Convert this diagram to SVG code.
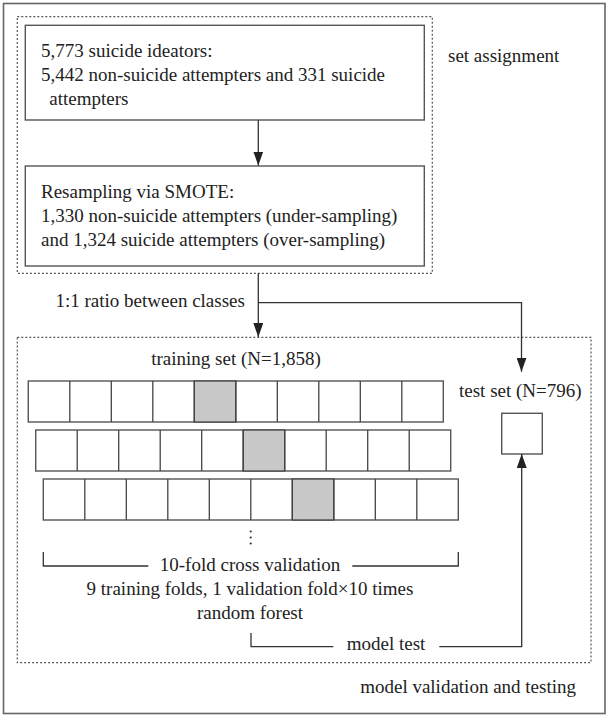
<svg xmlns="http://www.w3.org/2000/svg" width="608" height="718" viewBox="0 0 608 718">
<defs>
<style>
text{font-family:"Liberation Serif","Times New Roman",serif;font-size:19px;fill:#222;}
.box{fill:#fff;stroke:#555;stroke-width:1.4;}
.dot{fill:none;stroke:#555;stroke-width:1.2;stroke-dasharray:2 2;}
.ln{fill:none;stroke:#333;stroke-width:1.3;}
.cell{stroke:#444;stroke-width:1.3;}
.mid{text-anchor:middle;}
</style>
<marker id="ah" viewBox="0 0 14 10" markerWidth="14" markerHeight="10" refX="14" refY="5" orient="auto" markerUnits="userSpaceOnUse">
<path d="M0,0 L14,5 L0,10 z" fill="#222"/>
</marker>
</defs>
<rect width="608" height="718" fill="#fff"/>
<rect id="outer" x="3.5" y="3.5" width="601.5" height="710" fill="none" stroke="#666" stroke-width="1.6"/>
<g id="set-assignment">
<rect x="17.3" y="16.7" width="415" height="256.6" class="dot"/>
<text x="448" y="62">set assignment</text>
</g>
<g id="box1">
<rect x="25.3" y="25.3" width="399" height="94.7" class="box"/>
<text x="41" y="56.7">5,773 suicide ideators:</text>
<text x="41" y="80.5">5,442 non-suicide attempters and 331 suicide</text>
<text x="49.3" y="104.5">attempters</text>
</g>
<g id="box2">
<rect x="25.3" y="166" width="399" height="100" class="box"/>
<text x="41" y="197.5">Resampling via SMOTE:</text>
<text x="41" y="221.5">1,330 non-suicide attempters (under-sampling)</text>
<text x="41" y="245.5">and 1,324 suicide attempters (over-sampling)</text>
</g>
<g id="model-validation">
<rect x="17.3" y="337.3" width="573.7" height="325.4" class="dot"/>
<text x="576" y="693" style="text-anchor:end">model validation and testing</text>
</g>
<g id="training-set">
<text x="236" y="365" class="mid">training set (N=1,858)</text>
<g id="row1">
<rect x="28.3" y="381" width="415" height="41" class="box"/>
<rect x="194.3" y="381" width="41.5" height="41" fill="#c8c8c8" class="cell"/>
<path class="cell" d="M69.8,381V422M111.3,381V422M152.8,381V422M194.3,381V422M235.8,381V422M277.3,381V422M318.8,381V422M360.3,381V422M401.8,381V422"/>
</g>
<g id="row2">
<rect x="35.7" y="430" width="415" height="41" class="box"/>
<rect x="243.2" y="430" width="41.5" height="41" fill="#c8c8c8" class="cell"/>
<path class="cell" d="M77.2,430V471M118.7,430V471M160.2,430V471M201.7,430V471M243.2,430V471M284.7,430V471M326.2,430V471M367.7,430V471M409.2,430V471"/>
</g>
<g id="row3">
<rect x="43.3" y="479" width="415" height="41" class="box"/>
<rect x="292.3" y="479" width="41.5" height="41" fill="#c8c8c8" class="cell"/>
<path class="cell" d="M84.8,479V520M126.3,479V520M167.8,479V520M209.3,479V520M250.8,479V520M292.3,479V520M333.8,479V520M375.3,479V520M416.8,479V520"/>
</g>
<g id="ellipsis" fill="#333">
<circle cx="250.7" cy="531.5" r="1.1"/>
<circle cx="250.7" cy="537.5" r="1.1"/>
<circle cx="250.7" cy="543.5" r="1.1"/>
</g>
</g>
<g id="cross-validation">
<text x="250" y="571" class="mid">10-fold cross validation</text>
<text x="250" y="595" class="mid">9 training folds, 1 validation fold×10 times</text>
<text x="250" y="619" class="mid">random forest</text>
</g>
<g id="test-set">
<text x="459" y="397">test set (N=796)</text>
<rect x="501.7" y="413.3" width="40.6" height="40.7" class="box"/>
</g>
<g id="connectors">
<line x1="258.3" y1="120" x2="258.3" y2="165.5" class="ln" marker-end="url(#ah)"/>
<line x1="258.3" y1="273.3" x2="258.3" y2="337" class="ln" marker-end="url(#ah)"/>
<path d="M258.3,302.7H521.5V371.7" class="ln" marker-end="url(#ah)"/>
<text x="55.5" y="307">1:1 ratio between classes</text>
<path d="M43.3,552V566H148.3M352.3,566H458.3V552" class="ln"/>
<path d="M251,633V646.7H333.3" class="ln"/>
<path d="M439.3,646.7H521.7V454" class="ln" marker-end="url(#ah)"/>
<text x="346.7" y="650">model test</text>
</g>
</svg>
